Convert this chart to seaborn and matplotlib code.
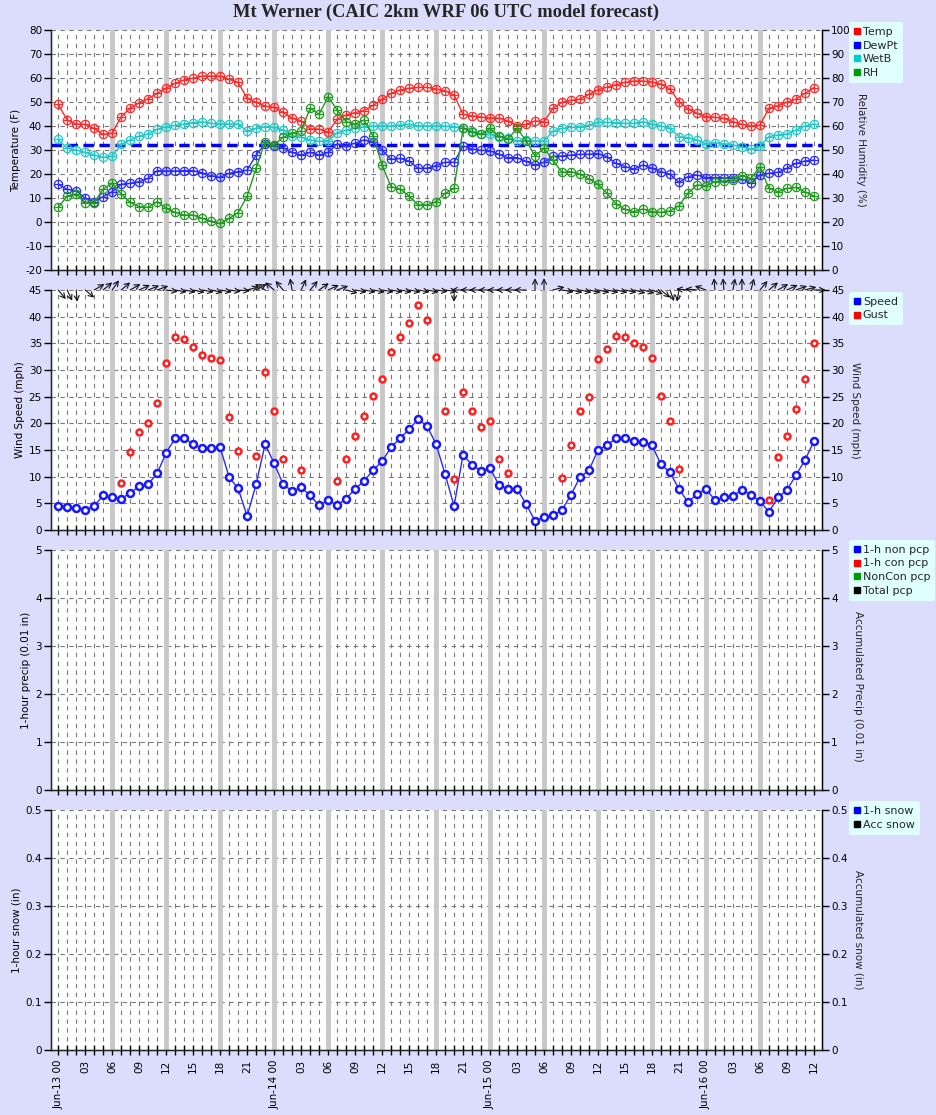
import numpy as np
import pandas as pd
import matplotlib
matplotlib.use("Agg")
import matplotlib.pyplot as plt
import seaborn as sns
from matplotlib.path import Path
from matplotlib.lines import Line2D
from matplotlib.transforms import ScaledTranslation
from matplotlib.ticker import MultipleLocator, FuncFormatter

nan = np.nan
hours = list(range(85))

temp = [49, 42.5, 40.8, 40.7, 39, 36.5, 37, 43.9, 47.4, 49.7,
        51.4, 53.6, 55.7, 57.8, 59.2, 59.9, 60.8, 60.8, 60.8, 59.4,
        58.2, 51.5, 49.9, 48.3, 47.8, 45.7, 43.3, 42.1, 38.75, 38.75,
        37.4, 42.8, 44.6, 45.6, 46.4, 48.6, 51.1, 53.6, 55, 55.7,
        56.1, 56.1, 55.4, 54.7, 52.9, 44.9, 44.2, 43.75, 43.3, 43.3,
        42.1, 40.1, 40.7, 42.1, 41.8, 47.4, 49.9, 50.7, 51.2, 53.2,
        55.1, 56.2, 57.2, 58.2, 58.75, 58.75, 58.3, 57.4, 55.4, 50.1,
        47.1, 45.3, 43.9, 43.6, 43.2, 41.8, 40.7, 40, 40.3, 47.4,
        48.5, 49.9, 51.2, 53.6, 56]

dewpt = [15.7, 13.6, 13.1, 9.9, 8.5, 10.6, 12.6, 15.7, 16.1, 16.8,
         18.2, 21.4, 21.25, 21.25, 21.4, 21.4, 20.5, 19.3, 18.6, 20.3,
         21, 21.6, 27.9, 32.5, 31.8, 31, 29, 27.9, 29, 27.9,
         29, 32.5, 31.8, 32.8, 34.2, 33.2, 30, 26.1, 26.5, 25.4,
         22.4, 22.4, 23.5, 24.9, 24.9, 31.7, 30.4, 29.9, 29.7, 28.2,
         26.8, 26.8, 25.3, 23.75, 24.9, 27.4, 27.5, 27.9, 28.2, 28.2,
         28.5, 27.2, 24.4, 23.1, 22.1, 23.75, 22.4, 21, 19.9, 16.5,
         18.9, 19.6, 18.5, 18.5, 18.5, 18.5, 17.8, 16.1, 19.6, 20.3,
         20.7, 22.4, 24.4, 25.4, 25.8]

wetb = [34.4, 30.7, 30, 29, 27.9, 26.9, 27.5, 32.4, 34.2, 35.8,
        36.7, 38.6, 39.7, 40.3, 40.8, 41.4, 41.7, 41.1, 40.8, 40.8,
        40.8, 37.9, 39, 39.7, 39.4, 38.3, 36, 35.3, 34.2, 33.6,
        33.9, 37.2, 38.3, 39, 39.7, 40, 40, 40, 40.4, 40.7,
        40, 40, 40, 40, 39.6, 39.3, 38.1, 36.8, 36.5, 35.6,
        34.9, 33.9, 34, 33.75, 33.75, 37.9, 39, 39.4, 39.7, 40.4,
        41.5, 41.5, 41.4, 41.1, 41.1, 41.8, 40.7, 40, 39, 35.6,
        35.1, 34.2, 32.5, 33.1, 32.5, 32.1, 31.25, 30.4, 31.5, 35.6,
        36.25, 36.7, 38.3, 40, 40.8]

rh = [26.1, 30.8, 31.7, 28.1, 28.1, 33.75, 36.1, 31.7, 28.2, 26.4,
      26.1, 28.5, 25.7, 24, 22.9, 22.9, 21.5, 20.4, 19.4, 21.5,
      23.9, 30.8, 42.4, 53.5, 52.1, 55.3, 57, 57.9, 67.4, 64.9,
      72.2, 66.7, 61.8, 60.8, 62.5, 55.8, 43.75, 34.7, 33.75, 30.8,
      27.1, 27.1, 28.5, 31.9, 34, 59, 57.4, 56.5, 59, 55.8,
      54.6, 59, 53.9, 47.5, 50.7, 45.7, 40.7, 41, 39.9, 37.9,
      35.7, 32, 27.5, 25.3, 24.3, 25.4, 24.3, 24, 24.6, 26.8,
      32, 35.4, 35.1, 36.8, 37.1, 37.5, 39.3, 38.2, 43, 34,
      32.6, 34, 34.4, 32.6, 30.8]

freezing_f = 32

speed = [4.5, 4.4, 4.1, 3.75, 4.5, 6.5, 6.1, 5.9, 6.9, 8.25,
         8.6, 10.6, 14.5, 17.2, 17.2, 16.1, 15.3, 15.3, 15.5, 9.9,
         7.8, 2.6, 8.6, 16.1, 12.5, 8.6, 7.25, 8.0, 6.5, 4.6,
         5.6, 4.6, 5.9, 7.7, 9.2, 11.2, 12.9, 15.5, 17.2, 18.9,
         20.75, 19.5, 16.1, 10.5, 4.5, 14.1, 12.2, 11.1, 11.6, 8.4,
         7.7, 7.7, 4.9, 1.7, 2.4, 2.8, 3.75, 6.6, 9.9, 11.2,
         15.0, 15.9, 17.2, 17.2, 16.6, 16.5, 15.9, 12.3, 10.8, 7.7,
         5.2, 6.75, 7.7, 5.6, 6.1, 6.4, 7.5, 6.6, 5.4, 3.4,
         6.1, 7.5, 10.25, 13.1, 16.6]

gust = [nan, nan, nan, nan, nan, nan, nan,
        8.8, 14.6, 18.3, 20.0, 23.9, 31.4, 36.1, 35.8, 34.3, 32.8, 32.2, 31.9, 21.2, 14.8,
        nan, 13.9, 29.6, 22.4, 13.3, nan, 11.3, nan, nan, nan,
        9.2, 13.4, 17.6, 21.3, 25.1, 28.3, 33.3, 36.1, 38.9, 42.2, 39.3, 32.4, 22.3, 9.5,
        25.8, 22.3, 19.4, 20.4, 13.4, 10.6,
        nan, nan, nan, nan, nan,
        9.7, 15.9, 22.3, 24.9, 32.0, 33.9, 36.3, 36.2, 35.0, 34.3, 32.2, 25.1, 20.4, 11.4,
        nan, nan, nan, nan, nan, nan, nan, nan, nan,
        5.6, 13.6, 17.6, 22.6, 28.3, 35.0]

# direction the wind arrow points (deg, 0 = right, 90 = up)
wind_arrow_deg = [-50, -65, -85, -40, 30, 40, 55, 40, 30, 25,
                  22, 20, -8, -10, -10, -12, -10, -12, -10, -8,
                  -5, 15, 30, 150, 140, 130, 100, 65, 50, 35,
                  25, 20, -15, -10, -10, -10, -10, -10, -10, -10,
                  -10, -10, -8, -8, -90, 180, 180, 180, 180, 180,
                  180, 180, 180, 90, 90, 15, -10, -12, -12, -12,
                  -12, -12, -12, -12, -15, -15, -20, -40, -70, -100,
                  175, 175, 160, 95, 95, 80, 90, 75, 50, 40,
                  30, 25, 20, 15, 0]

title = "Mt Werner (CAIC 2km WRF 06 UTC model forecast)"

sns.set_style("white")
plt.rcParams["font.family"] = ["DejaVu Sans"]

BG = "#dcdcfc"
fig = plt.figure(figsize=(9.37, 11.15), dpi=100, facecolor=BG)

L = 51 / 937
W = 771 / 937
H = 240 / 1115
bottoms = [270, 530, 790, 1050]
axes = [fig.add_axes([L, 1 - b / 1115, W, H]) for b in bottoms]

FS = 7.5
LFS = 7.5
gfmt = FuncFormatter(lambda v, p: "%g" % round(v, 3))


def xlabels():
    out = []
    for h in hours:
        if h % 3 == 0:
            if h % 24 == 0:
                out.append("Jun-%d 00" % (13 + h // 24))
            else:
                out.append("%02d" % (h % 24))
        else:
            out.append("")
    return out


def style(ax, lo, hi, step, left_label):
    ax.set_facecolor("white")
    ax.set_xlim(-0.8, 84.9)
    ax.set_ylim(lo, hi)
    ax.set_xticks(hours)
    ax.yaxis.set_major_locator(MultipleLocator(step))
    ax.yaxis.set_major_formatter(gfmt)
    ax.set_axisbelow(True)
    ax.grid(True, ls=(0, (4, 4)), color="#7a7a7a", lw=0.8)
    for h in range(6, 84, 6):
        ax.axvline(h, color="#c8c8c8", lw=3.5, zorder=1)
    ax.spines["top"].set_visible(False)
    for s in ("left", "right", "bottom"):
        ax.spines[s].set_color("black")
        ax.spines[s].set_linewidth(1)
    ax.tick_params(axis="x", direction="inout", length=7, width=1, colors="black",
                   labelsize=FS, bottom=True)
    ax.tick_params(axis="y", direction="out", length=5, width=1, colors="black",
                   labelsize=FS, left=True, pad=1.5)
    ax.set_xticklabels([])
    ax.set_xlabel("")
    ax.set_ylabel(left_label, fontsize=LFS, color="black", labelpad=3)


def twin(ax, lo, hi, step, label, ypos=None):
    tw = ax.twinx()
    tw.set_ylim(lo, hi)
    tw.yaxis.set_major_locator(MultipleLocator(step))
    tw.yaxis.set_major_formatter(gfmt)
    tw.grid(False)
    tw.spines["top"].set_visible(False)
    tw.spines["right"].set_color("black")
    tw.tick_params(axis="y", direction="out", length=5, width=1, colors="black",
                   labelsize=FS, right=True, pad=1.5)
    tw.set_ylabel(label, rotation=270, va="bottom", fontsize=LFS, labelpad=4)
    if ypos is not None:
        tw.yaxis.set_label_coords(1.04, ypos)
    return tw


def legend(ax, labels, colors, top):
    handles = [Line2D([], [], marker="s", ls="", color=c, mec=c, markersize=5) for c in colors]
    leg = ax.legend(handles, labels, loc="upper left", bbox_to_anchor=(1.035, top),
                    frameon=True, fancybox=True, facecolor="#e0ffff", edgecolor="#e0ffff",
                    framealpha=1, fontsize=8, handlelength=0.5, handletextpad=0.3,
                    borderpad=0.45, labelspacing=0.32, borderaxespad=0)
    leg.get_frame().set_linewidth(0)
    return leg


# marker: circle with crosshair
oplus = Path.make_compound_path(
    Path.unit_circle(),
    Path([(-1, 0), (1, 0), (0, -1), (0, 1)],
         [Path.MOVETO, Path.LINETO, Path.MOVETO, Path.LINETO]))

# ---------- Panel 1 ----------
ax1 = axes[0]
df1 = pd.DataFrame({"hour": hours, "Temp": temp, "DewPt": dewpt, "WetB": wetb, "RH": rh})
style(ax1, -20, 80, 10, "Temperature (F)")
tw1 = twin(ax1, 0, 100, 10, "Relative Humidity (%)")
ax1.axhline(freezing_f, color="#0000ff", lw=2.5, ls=(0, (3, 1.6)), zorder=2)
c_temp, c_dew, c_wet, c_rh = "#ff2a2a", "#2a2aff", "#22c8c8", "#229a22"
for col, c in (("Temp", c_temp), ("WetB", c_wet), ("DewPt", c_dew)):
    sns.lineplot(data=df1, x="hour", y=col, ax=ax1, color=c, lw=1, marker=oplus,
                 markersize=6, mfc="none", mec=c, mew=0.9, errorbar=None, legend=False, zorder=3)
sns.lineplot(data=df1, x="hour", y="RH", ax=tw1, color=c_rh, lw=1, marker=oplus,
             markersize=6, mfc="none", mec=c_rh, mew=0.9, errorbar=None, legend=False)
ax1.set_xlabel("")
ax1.set_ylabel("Temperature (F)", fontsize=LFS, labelpad=3)
tw1.set_xlabel("")
tw1.set_ylabel("Relative Humidity (%)", rotation=270, va="bottom", fontsize=LFS, labelpad=4)
legend(tw1, ["Temp", "DewPt", "WetB", "RH"], ["#ff0000", "#0000ff", "#00cccc", "#009900"], 1.033)

# ---------- Panel 2 ----------
ax2 = axes[1]
df2 = pd.DataFrame({"hour": hours, "Speed": speed, "Gust": gust})
style(ax2, 0, 45, 5, "Wind Speed (mph)")
tw2 = twin(ax2, 0, 45, 5, "Wind Speed (mph)")
sns.lineplot(data=df2, x="hour", y="Speed", ax=ax2, color="#2a2aff", lw=1, marker="o",
             markersize=5, mfc="white", mec="#1818ff", mew=1.8, errorbar=None, legend=False, zorder=3)
sns.scatterplot(data=df2.dropna(), x="hour", y="Gust", ax=ax2, marker="o", s=18,
                color="white", edgecolor="#ff2020", linewidth=1.8, zorder=3, legend=False)
ax2.set_xlabel("")
ax2.set_ylabel("Wind Speed (mph)", fontsize=LFS, labelpad=3)
for h, ang in zip(hours, wind_arrow_deg):
    r = np.deg2rad(ang)
    ln = 8.5
    tr = ax2.transData + ScaledTranslation(ln * np.cos(r) / 72, ln * np.sin(r) / 72,
                                           fig.dpi_scale_trans)
    ax2.annotate("", xy=(h, 45), xycoords=tr, xytext=(h, 45), textcoords="data",
                 arrowprops=dict(arrowstyle="->,head_length=0.35,head_width=0.18",
                                 color="#111111", lw=0.8, shrinkA=0, shrinkB=0),
                 annotation_clip=False, zorder=5)
legend(tw2, ["Speed", "Gust"], ["#0000ff", "#ff0000"], 0.992)

# ---------- Panel 3 ----------
ax3 = axes[2]
style(ax3, 0, 5, 1, "1-hour precip (0.01 in)")
tw3 = twin(ax3, 0, 5, 1, "Accumulated Precip (0.01 in)", ypos=0.43)
legend(tw3, ["1-h non pcp", "1-h con pcp", "NonCon pcp", "Total pcp"],
       ["#0000ff", "#ff0000", "#009900", "#000000"], 1.042)

# ---------- Panel 4 ----------
ax4 = axes[3]
style(ax4, 0, 0.5, 0.1, "1-hour snow (in)")
tw4 = twin(ax4, 0, 0.5, 0.1, "Accumulated snow (in)")
legend(tw4, ["1-h snow", "Acc snow"], ["#0000ff", "#000000"], 1.0375)
ax4.set_xticklabels(xlabels(), rotation=90, fontsize=FS)

fig.text(0.476, 1 - 12 / 1115, title, ha="center", va="center", fontsize=13.3,
         fontweight="bold", family="Liberation Serif")

fig.savefig("out.png", dpi=100, facecolor=BG)
